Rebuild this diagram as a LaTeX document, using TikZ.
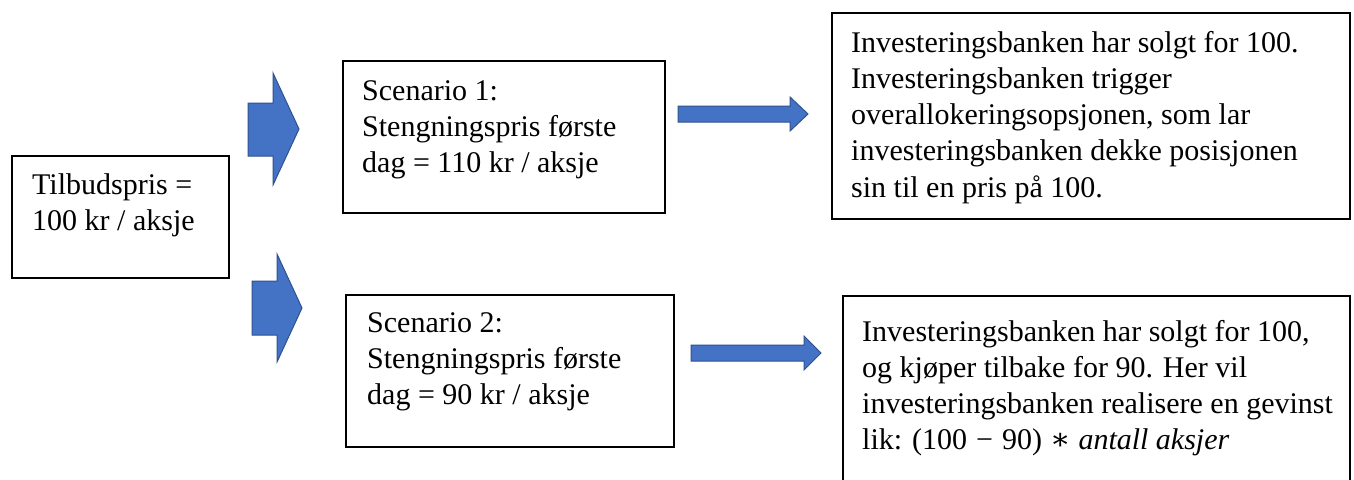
\documentclass[tikz,border=0pt]{standalone}
\usepackage{fontspec}
\setmainfont{Liberation Serif}
\newfontfamily\symfam{DejaVu Serif}
\definecolor{arrowfill}{HTML}{4472C4}
\definecolor{arrowline}{HTML}{2F528F}
\newcommand{\firststrut}{\rule{0pt}{25pt}}
\tikzset{
  box/.style={draw=black, line width=2pt, fill=white, inner sep=0pt, anchor=north west},
  txt/.style={inner sep=0pt, anchor=north west, align=left, font=\fontsize{30}{36.2}\selectfont},
  blockarrow/.style={fill=arrowfill, draw=arrowline, line width=1pt, line join=miter},
}
\begin{document}
\begin{tikzpicture}[x=1pt,y=-1pt]
\clip (0,0) rectangle (1354,479);
\fill[white] (0,0) rectangle (1354,479);

% boxes
\node[box, minimum width=217pt, minimum height=122pt] (A) at (11,155) {};
\node[box, minimum width=322pt, minimum height=152pt] (B) at (342,60) {};
\node[box, minimum width=328pt, minimum height=152pt] (C) at (345,294) {};
\node[box, minimum width=518pt, minimum height=206pt] (D) at (831,12) {};
\node[box, minimum width=507pt, minimum height=210pt] (E) at (842,295) {};

% texts
\node[txt] (At) at (32,169) {\firststrut Tilbudspris =\\100 kr / aksje};
\node[txt] (Bt) at (362,75) {\firststrut Scenario 1:\\Stengningspris første\\dag = 110 kr / aksje};
\node[txt] (Ct) at (367,307) {\firststrut Scenario 2:\\Stengningspris første\\dag = 90 kr / aksje};
\node[txt] (Dt) at (851,27) {\firststrut Investeringsbanken har solgt for 100.\\Investeringsbanken trigger\\overallokeringsopsjonen, som lar\\investeringsbanken dekke posisjonen\\sin til en pris på 100.};
\node[txt] (Et) at (862,316) {\firststrut Investeringsbanken har solgt for 100,\\og kjøper tilbake for 90. Her vil\\investeringsbanken realisere en gevinst\\lik: (100\hspace{9pt}−\hspace{9pt}90)\hspace{8pt}{\symfam ∗}\hspace{8pt}\textit{antall aksjer}};

% block arrows
\draw[blockarrow] (248,103) -- (273,103) -- (273,73) -- (299,129) -- (273,185) -- (273,156) -- (248,156) -- cycle;
\draw[blockarrow] (252,281) -- (277,281) -- (277,254) -- (302,308) -- (277,362) -- (277,335) -- (252,335) -- cycle;
\draw[blockarrow] (678,106) -- (790,106) -- (790,97) -- (808,114) -- (790,131) -- (790,122) -- (678,122) -- cycle;
\draw[blockarrow] (691,345) -- (804,345) -- (804,336) -- (821,353) -- (804,370) -- (804,361) -- (691,361) -- cycle;
\end{tikzpicture}
\end{document}
